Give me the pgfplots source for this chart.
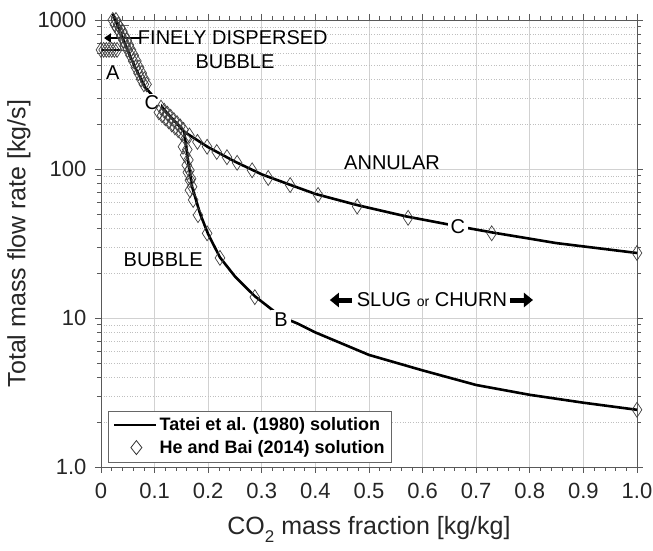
\documentclass[border=0pt]{standalone}
\usepackage{fontspec}
\setmainfont{Liberation Sans}
\usepackage{pgfplots}
\pgfplotsset{compat=1.18}
\usetikzlibrary{arrows.meta}
\begin{document}
\begin{tikzpicture}
\begin{axis}[
 width=536pt, height=447pt, scale only axis,
 xmin=0, xmax=1, ymin=1, ymax=1000, ymode=log,
 clip=false,
 axis line style={black!65, line width=0.8pt},
 xtick={0,0.1,0.2,0.3,0.4,0.5,0.6,0.7,0.8,0.9,1.0},
 xticklabels={0,0.1,0.2,0.3,0.4,0.5,0.6,0.7,0.8,0.9,1.0},
 ytick={1,10,100,1000}, yticklabels={1.0,10,100,1000},
 minor x tick num=4,
 tick align=outside,
 major tick length=6pt, minor tick length=4pt,
 tick style={black!65, line width=0.6pt},
 xmajorgrids, ymajorgrids, yminorgrids,
 major grid style={black!18, line width=0.6pt, solid},
 minor grid style={black!25, line width=0.4pt, dash pattern=on 0.8pt off 1.8pt},
 ticklabel style={font=\fontsize{22}{24}\selectfont, text=black!85},
 xticklabel style={yshift=-7pt},
 yticklabel style={xshift=-5pt},
 /pgf/number format/assume math mode=true,
 xlabel={CO\raisebox{-0.32em}{\fontsize{17}{17}\selectfont 2} mass fraction [kg/kg]},
 ylabel={Total mass flow rate [kg/s]},
 label style={font=\fontsize{25}{28}\selectfont, text=black!85},
 xlabel style={yshift=-10pt},
 legend style={at={(rel axis cs:0.013,0.011)}, anchor=south west, draw=black!60, fill=white,
   font=\fontsize{18}{20}\selectfont\bfseries, cells={anchor=west}, inner xsep=5pt, inner ysep=5pt, row sep=4pt},
]
\addlegendimage{legend image code/.code={\draw[black, line width=2.5pt] (0pt,0pt) -- (42pt,0pt);}}
\addlegendentry{Tatei et al. (1980) solution}
\addlegendimage{legend image code/.code={\draw[black!80, line width=0.8pt] (22pt,0pt) +(0,-7pt) -- +(5.5pt,0) -- +(0,7pt) -- +(-5.5pt,0) -- cycle;}}
\addlegendentry{He and Bai (2014) solution}

% Tatei solution lines
\addplot[black, line width=2.6pt, forget plot] coordinates {(0.022,1100) (0.035,850) (0.05,620) (0.065,470) (0.082,355) (0.10,300) (0.123,238) (0.14,205) (0.155,178)};
\addplot[black, line width=2.6pt, forget plot] coordinates {(0.155,178) (0.2,140) (0.25,112) (0.3,92) (0.35,79) (0.4,68) (0.48,57) (0.57,48) (0.67,41) (0.73,37.5) (0.85,31.8) (1.0,27.3)};
\addplot[black, line width=2.6pt, forget plot] coordinates {(0.155,178) (0.158,150) (0.163,110) (0.17,76) (0.185,50) (0.2,36.5) (0.222,25.5) (0.25,19) (0.287,14) (0.336,10.2) (0.366,9.2) (0.4,8.0) (0.5,5.65) (0.6,4.45) (0.7,3.55) (0.8,3.05) (0.9,2.7) (1.0,2.42)};
\addplot[black, line width=2.0pt, forget plot] coordinates {(0.0,630) (0.035,630)};

% He and Bai solution markers
\pgfplotsset{hb/.style={only marks, mark=diamond, mark size=6.5pt, mark options={draw=black!75, fill=none, line width=0.7pt, yscale=1.15}, forget plot}}
\addplot[hb] coordinates {(0,630)(0.005,630)(0.01,630)(0.015,630)(0.02,630)(0.025,630)(0.03,630)};
\addplot[hb] coordinates {(0.022,1000)(0.026,930)(0.030,880)(0.034,840)(0.038,780)(0.042,730)(0.046,680)(0.050,630)(0.055,580)(0.060,530)(0.065,480)(0.070,440)(0.075,400)(0.080,370)};
\addplot[hb] coordinates {(0.028,1000)(0.032,930)(0.036,880)(0.040,840)(0.044,780)(0.048,730)(0.052,680)(0.056,630)(0.061,580)(0.066,530)(0.071,480)(0.076,440)(0.081,400)(0.085,370)};
\addplot[hb] coordinates {(0.112,258)(0.118,246)(0.124,235)(0.130,224)(0.136,213)(0.142,203)(0.148,193)(0.154,183)};
\addplot[hb] coordinates {(0.108,240)(0.114,229)(0.120,219)(0.126,209)(0.132,199)(0.138,190)(0.144,182)(0.150,174)};
\addplot[hb] coordinates {(0.165,168)(0.18,152)(0.198,141)(0.216,130)(0.235,120)(0.254,110)(0.282,98)(0.312,87)(0.353,78)(0.405,67)(0.478,56)(0.573,47)(0.729,37)(1.0,27.3)};
\addplot[hb] coordinates {(0.153,141)(0.157,124)(0.160,106)(0.162,95)(0.166,84)(0.166,72)(0.172,62)(0.181,49)(0.198,37)(0.222,25.3)(0.287,13.8)(1.0,2.42)};
\addplot[hb] coordinates {(0.158,160)(0.161,135)(0.163,115)(0.165,98)(0.168,86)(0.170,76)};

% annotations
\begin{scope}[every node/.style={font=\fontsize{20}{22}\selectfont, text=black}]
\node at (axis cs:0.246,757) {FINELY DISPERSED};
\node at (axis cs:0.25,523) {BUBBLE};
\node at (axis cs:0.022,441) {A};
\node[fill=white, inner sep=2pt] at (axis cs:0.095,277) {C};
\node at (axis cs:0.543,111) {ANNULAR};
\node[fill=white, inner sep=3pt] at (axis cs:0.666,40.8) {C};
\node at (axis cs:0.116,24.5) {BUBBLE};
\node[fill=white, inner sep=3pt] at (axis cs:0.336,9.7) {B};
\node at (axis cs:0.6175,13.2) {SLUG {\fontsize{14}{16}\selectfont or} CHURN};
\end{scope}
\draw[black, line width=5pt, -{Triangle[length=9pt,width=14pt]}] (axis cs:0.468,13.2) -- (axis cs:0.427,13.2);
\draw[black, line width=5pt, -{Triangle[length=9pt,width=14pt]}] (axis cs:0.763,13.2) -- (axis cs:0.806,13.2);
\draw[black, line width=2.5pt, -{Triangle[length=7pt,width=9pt]}] (axis cs:0.0728,757) -- (axis cs:0.0056,757);
\draw[black!60, line width=0.8pt] (axis cs:0.052,925) -- (axis cs:0.037,925) -- (axis cs:0.037,629) -- (axis cs:0.054,629);

\coordinate (bl) at (rel axis cs:-0.1884,-0.1879);
\coordinate (tr) at (rel axis cs:1.0299,1.0447);
\end{axis}
\pgfresetboundingbox
\path (bl) rectangle (tr);
\end{tikzpicture}
\end{document}
